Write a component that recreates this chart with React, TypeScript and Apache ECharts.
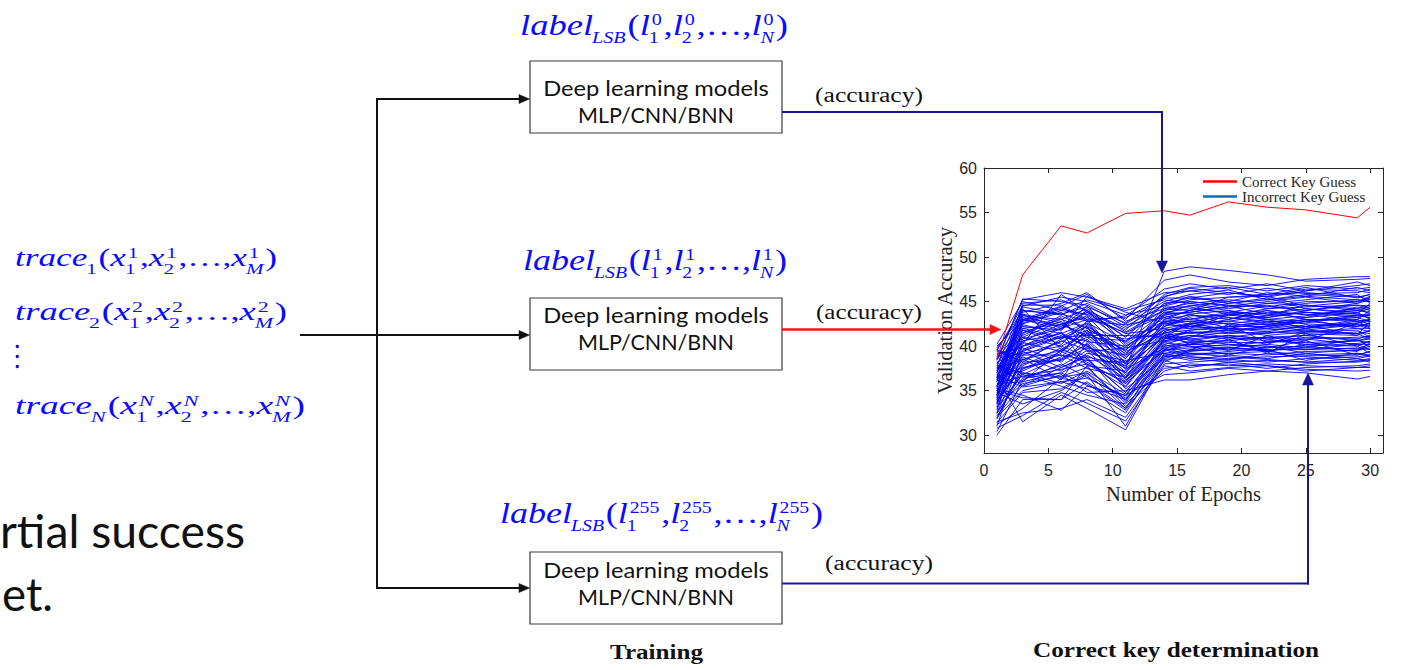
import React, { useEffect, useRef } from "react";
import * as echarts from "echarts";

// ---------- DATA ----------
const epochs = [1, 3, 6, 8, 11, 14, 16, 19, 22, 25, 29, 30];
const correctKeyAccuracy = [38.5, 48.0, 53.5, 52.7, 54.9, 55.2, 54.7, 56.2, 55.6, 55.3, 54.4, 55.6];
const incorrectKeyAccuracy = [
  [31.0, 39.5, 41.2, 40.0, 37.5, 48.4, 48.9, 48.5, 48.0, 47.3, 47.5, 47.6],
  [34.5, 43.0, 44.5, 45.8, 43.0, 47.4, 48.0, 47.2, 46.8, 47.5, 47.8, 47.8],
  [36.0, 44.8, 45.2, 44.0, 41.0, 45.5, 46.5, 46.0, 45.5, 46.2, 46.8, 47.0],
  [38.5, 45.2, 46.0, 45.5, 44.2, 46.0, 46.2, 45.8, 46.5, 45.9, 46.0, 46.4],
  [37.0, 44.0, 43.5, 44.8, 42.5, 45.0, 45.8, 46.3, 45.2, 45.8, 45.5, 45.8],
  [35.5, 42.8, 44.2, 43.5, 40.5, 44.8, 45.0, 44.5, 45.0, 45.5, 44.8, 45.5],
  [39.8, 43.5, 42.0, 44.0, 42.0, 44.0, 44.5, 45.0, 44.2, 44.8, 45.2, 45.0],
  [33.5, 41.5, 43.0, 42.0, 39.5, 43.8, 44.2, 43.8, 44.5, 44.0, 44.6, 44.5],
  [36.8, 40.5, 42.5, 43.2, 41.5, 43.5, 43.8, 44.5, 43.6, 44.2, 43.8, 44.2],
  [38.0, 42.0, 41.0, 42.5, 38.8, 43.0, 43.5, 43.0, 44.0, 43.5, 44.0, 43.8],
  [32.5, 39.0, 40.5, 41.8, 37.0, 42.8, 43.0, 43.6, 43.2, 43.8, 43.2, 43.5],
  [35.0, 41.0, 42.8, 40.5, 40.0, 42.5, 42.8, 42.5, 43.0, 42.8, 43.5, 43.2],
  [37.5, 38.5, 39.5, 41.0, 38.0, 42.0, 42.5, 42.8, 42.4, 43.0, 42.8, 42.9],
  [39.0, 40.0, 41.5, 39.8, 39.0, 41.8, 42.0, 42.2, 42.8, 42.5, 42.2, 42.6],
  [34.0, 37.5, 38.5, 40.2, 36.0, 41.5, 41.8, 42.0, 41.8, 42.2, 42.5, 42.3],
  [36.2, 39.2, 40.0, 38.8, 37.8, 41.0, 41.5, 41.8, 42.0, 41.6, 42.0, 42.0],
  [38.8, 36.5, 37.8, 39.5, 35.5, 40.8, 41.2, 41.0, 41.5, 41.8, 41.4, 41.7],
  [33.8, 38.0, 39.0, 37.5, 36.5, 40.5, 40.8, 41.2, 40.8, 41.2, 41.6, 41.4],
  [35.8, 36.0, 37.0, 38.5, 34.8, 40.0, 40.5, 40.6, 41.0, 40.8, 41.0, 41.1],
  [37.8, 37.0, 36.5, 37.0, 34.0, 39.8, 40.2, 40.0, 40.5, 40.4, 40.6, 40.8],
  [30.0, 34.0, 34.0, 36.0, 33.0, 39.5, 39.8, 40.2, 39.8, 40.0, 40.3, 40.5],
  [32.0, 35.0, 36.0, 35.2, 32.5, 39.0, 39.5, 39.6, 39.5, 39.8, 39.7, 40.2],
  [34.8, 33.5, 35.0, 36.8, 31.0, 38.8, 39.0, 39.2, 39.0, 39.4, 39.5, 39.8],
  [36.5, 31.5, 34.5, 33.0, 30.6, 38.5, 38.8, 38.6, 38.8, 38.9, 39.0, 39.4],
  [31.5, 32.5, 33.0, 34.0, 32.0, 38.0, 38.2, 38.5, 38.2, 38.6, 38.8, 39.0],
  [33.2, 36.8, 35.5, 34.5, 33.5, 37.5, 37.8, 38.0, 37.5, 38.0, 38.3, 38.5],
  [35.2, 34.5, 32.8, 35.5, 34.5, 36.8, 37.0, 37.5, 37.2, 37.6, 37.8, 38.0],
  [38.2, 35.5, 36.8, 34.8, 35.0, 36.2, 36.2, 36.8, 37.2, 37.0, 36.3, 36.6],
  [39.5, 44.5, 45.5, 45.0, 43.5, 44.5, 45.2, 45.5, 45.8, 46.0, 45.6, 45.2],
  [40.2, 45.0, 44.0, 45.2, 44.0, 45.2, 44.8, 45.2, 44.8, 45.2, 45.8, 44.8],
  [32.8, 40.8, 42.0, 44.5, 40.2, 43.2, 44.0, 43.2, 42.6, 43.2, 44.4, 44.0],
  [34.2, 42.5, 43.8, 41.5, 39.2, 42.2, 43.2, 42.0, 41.6, 42.4, 41.2, 42.8],
  [37.2, 41.8, 40.2, 42.8, 37.5, 41.2, 40.8, 40.2, 40.0, 39.6, 40.2, 39.6],
  [39.2, 39.8, 38.2, 40.8, 36.8, 40.2, 39.2, 38.8, 38.5, 38.2, 38.6, 38.2],
  [35.6, 38.8, 37.2, 39.2, 38.4, 39.2, 38.6, 38.2, 37.8, 37.4, 37.2, 37.3],
  [31.8, 37.8, 39.8, 38.2, 35.8, 39.6, 40.0, 39.0, 40.0, 39.2, 39.6, 40.0],
  [36.4, 43.8, 44.8, 46.0, 42.8, 44.2, 44.0, 45.5, 45.6, 44.5, 45.0, 45.6],
  [33.6, 40.2, 45.8, 43.8, 41.8, 45.8, 46.6, 46.8, 46.2, 46.8, 46.4, 46.6],
  [38.6, 42.2, 41.8, 45.6, 43.8, 42.6, 42.0, 43.5, 43.0, 42.0, 43.0, 42.4],
  [35.4, 44.2, 39.6, 41.6, 40.8, 41.4, 42.4, 41.5, 42.3, 43.0, 42.0, 41.6],
  [37.6, 41.2, 43.2, 39.4, 39.8, 40.6, 41.0, 42.4, 40.4, 41.0, 40.8, 41.2],
  [39.6, 38.2, 40.8, 42.2, 36.2, 39.4, 40.4, 39.5, 41.2, 40.0, 39.4, 40.4],
  [30.4, 36.2, 38.0, 36.5, 34.2, 38.2, 39.6, 40.8, 39.2, 41.4, 40.0, 39.2],
  [32.2, 35.6, 37.6, 38.8, 33.8, 40.8, 41.6, 41.0, 40.6, 40.6, 42.6, 43.0],
  [34.6, 39.6, 41.6, 37.8, 37.2, 42.4, 42.2, 43.0, 43.8, 43.6, 42.8, 42.0],
  [36.6, 37.2, 39.2, 42.4, 38.6, 43.6, 44.6, 44.0, 43.4, 44.6, 44.2, 43.6],
  [38.4, 45.3, 45.0, 44.6, 42.2, 44.6, 45.6, 44.8, 45.4, 44.2, 43.6, 44.8],
  [33.4, 38.6, 36.2, 40.4, 35.2, 38.6, 39.4, 39.8, 39.6, 38.4, 39.2, 38.8],
  [35.0, 34.2, 34.0, 37.8, 33.2, 37.2, 38.0, 37.8, 38.0, 37.8, 37.6, 37.8],
  [37.0, 43.2, 42.4, 41.2, 41.2, 41.0, 42.6, 41.8, 42.2, 41.8, 42.4, 41.9],
  [33.0, 40.0, 42.0, 43.0, 38.0, 44.2, 44.8, 44.2, 44.8, 44.6, 44.0, 44.4],
  [34.0, 41.8, 40.8, 42.2, 39.8, 43.4, 43.0, 43.8, 43.6, 43.2, 43.8, 43.0],
  [35.2, 43.6, 42.6, 41.0, 40.6, 42.8, 42.2, 42.6, 42.0, 42.8, 42.2, 42.6],
  [36.2, 42.6, 44.0, 43.6, 41.4, 42.0, 41.4, 41.8, 41.2, 41.6, 41.8, 41.0],
  [37.2, 40.6, 41.4, 40.0, 37.8, 41.6, 40.6, 41.2, 40.8, 40.2, 40.6, 40.4],
  [38.2, 39.4, 37.6, 39.0, 36.4, 40.4, 40.0, 39.8, 40.2, 39.8, 40.8, 39.9],
  [39.2, 36.8, 38.8, 41.4, 37.4, 39.8, 39.0, 39.4, 39.8, 40.6, 39.0, 39.4],
  [32.4, 37.0, 35.8, 37.2, 34.6, 39.0, 38.4, 39.0, 38.6, 39.2, 38.6, 38.9],
  [31.2, 33.0, 36.4, 35.8, 32.8, 38.4, 37.6, 38.2, 38.4, 38.2, 38.2, 38.4],
  [30.8, 32.2, 34.8, 33.6, 31.6, 37.8, 37.2, 37.6, 37.8, 37.2, 37.6, 37.6],
  [34.4, 44.6, 44.6, 43.0, 43.2, 45.4, 45.4, 46.0, 45.6, 46.4, 46.2, 46.0],
  [36.0, 43.4, 43.0, 44.2, 41.6, 44.0, 45.0, 44.6, 44.4, 45.0, 45.0, 45.4],
  [37.4, 42.4, 41.4, 42.6, 40.4, 43.8, 43.6, 44.0, 43.0, 43.4, 44.2, 44.6],
  [38.6, 41.0, 40.0, 41.4, 39.6, 42.8, 42.8, 43.2, 42.8, 42.6, 43.4, 43.6],
  [39.4, 39.0, 39.0, 38.4, 38.2, 41.8, 42.2, 42.0, 42.6, 42.2, 42.6, 42.8],
  [33.6, 38.2, 38.4, 39.8, 36.6, 41.2, 41.6, 41.4, 41.6, 41.4, 41.2, 41.8],
  [35.8, 36.6, 37.4, 38.0, 35.4, 40.6, 41.2, 40.8, 41.0, 41.2, 40.6, 41.0],
  [36.8, 35.4, 36.0, 36.4, 34.4, 40.0, 40.2, 40.4, 40.4, 40.8, 40.2, 40.2],
  [31.4, 34.8, 35.2, 37.0, 33.0, 39.2, 39.6, 39.8, 39.6, 39.6, 39.8, 39.6],
  [32.6, 36.4, 37.0, 35.6, 34.0, 38.8, 39.2, 39.2, 39.4, 39.0, 39.2, 39.0],
  [33.8, 39.4, 41.0, 40.6, 36.4, 43.0, 44.0, 44.8, 45.2, 45.6, 45.2, 45.0],
  [34.8, 40.4, 39.4, 41.8, 38.2, 42.2, 43.4, 43.4, 44.2, 44.4, 44.6, 44.2],
  [35.6, 38.4, 40.6, 39.6, 37.0, 41.6, 42.6, 42.8, 43.4, 43.8, 43.6, 43.4],
  [36.4, 37.6, 38.6, 40.2, 35.8, 40.8, 41.8, 42.2, 42.2, 42.8, 43.2, 42.8],
  [37.6, 36.0, 39.6, 38.6, 34.8, 40.2, 41.0, 41.6, 41.4, 42.0, 42.4, 42.2],
  [38.8, 43.0, 42.2, 43.8, 41.0, 44.8, 45.4, 45.0, 46.0, 45.6, 46.6, 46.2],
  [39.6, 44.0, 43.6, 44.4, 42.6, 45.6, 46.2, 46.6, 45.8, 46.6, 45.4, 45.8],
  [40.0, 42.8, 44.4, 42.8, 43.4, 46.4, 47.0, 46.4, 47.0, 46.2, 47.2, 46.8],
  [32.0, 37.4, 39.4, 38.0, 36.0, 41.0, 40.4, 40.6, 39.4, 40.2, 40.0, 40.6],
  [33.2, 35.8, 36.6, 37.6, 33.6, 39.6, 38.8, 38.4, 39.2, 38.8, 38.4, 38.6],
  [35.4, 41.4, 43.4, 42.0, 39.4, 41.4, 40.2, 41.0, 40.2, 41.6, 41.4, 40.8],
  [36.6, 43.0, 41.8, 44.0, 40.0, 42.6, 43.6, 42.4, 42.4, 42.0, 42.8, 43.0],
  [37.8, 44.4, 43.6, 42.8, 42.4, 43.2, 42.4, 43.6, 44.0, 43.0, 43.0, 44.0],
  [34.2, 42.0, 42.4, 43.4, 39.0, 44.4, 44.4, 43.6, 43.2, 44.0, 44.8, 45.2],
  [35.0, 40.0, 41.0, 41.2, 38.6, 43.6, 43.8, 44.4, 44.6, 43.8, 43.4, 43.2],
];
const xTickValues = [0, 5, 10, 15, 20, 25, 30];
const yTickValues = [30, 35, 40, 45, 50, 55, 60];
const legendNames = ["Correct Key Guess", "Incorrect Key Guess"];

// ---------- helpers ----------
type Piece = { t: string; it?: boolean; sub?: string; subIt?: boolean; sup?: string; supIt?: boolean };

const SERIF = "Liberation Serif";
const SANS = "Lato";

function makeMeasurer() {
  const ctx = document.createElement("canvas").getContext("2d") as CanvasRenderingContext2D;
  return (text: string, size: number, family: string, italic = false, bold = false) => {
    ctx.font = `${italic ? "italic " : ""}${bold ? "bold " : ""}${size}px "${family}"`;
    return ctx.measureText(text).width;
  };
}

export default function App() {
  const ref = useRef<HTMLDivElement>(null);

  useEffect(() => {
    if (!ref.current) return;
    const chart = echarts.init(ref.current, undefined, { renderer: "svg" });
    const measure = makeMeasurer();

    const BLUE = "#0a0aff";
    const NAVY = "#16169a";
    const RED = "#f01515";
    const INK = "#111111";

    const mathGroup = (pieces: Piece[], x: number, cy: number, size: number, width: number, ratio: number) => {
      const children: any[] = [];
      const ss = size * ratio;
      const txt = (t: string, px: number, py: number, fs: number, italic: boolean) => ({
        type: "text",
        x: px,
        y: py,
        z: 100,
        style: {
          text: t,
          fontSize: fs,
          fontFamily: SERIF,
          fontStyle: italic ? "italic" : "normal",
          fill: BLUE,
          align: "left",
          verticalAlign: "middle",
        },
      });
      let cx = 0;
      for (const p of pieces) {
        children.push(txt(p.t, cx, 0, size, !!p.it));
        cx += measure(p.t, size, SERIF, !!p.it);
        let adv = 0;
        if (p.sub) {
          const sx = cx - (p.it ? 0.03 * size : 0);
          children.push(txt(p.sub, sx, 0.42 * size, ss, !!p.subIt));
          adv = Math.max(adv, sx - cx + measure(p.sub, ss, SERIF, !!p.subIt));
        }
        if (p.sup) {
          const sx = cx + (p.it ? 0.05 * size : 0);
          children.push(txt(p.sup, sx, -0.18 * size, ss, !!p.supIt));
          adv = Math.max(adv, sx - cx + measure(p.sup, ss, SERIF, !!p.supIt));
        }
        cx += adv + (p.sub || p.sup ? 0.05 * size : 0);
      }
      return { type: "group", x, y: cy, scaleX: width / cx, z: 100, children };
    };

    const fitText = (
      text: string,
      x: number,
      cy: number,
      width: number,
      family: string,
      size: number,
      color: string,
      opt: { bold?: boolean; italic?: boolean; align?: string } = {}
    ) => {
      const w = measure(text, size, family, !!opt.italic, !!opt.bold);
      return {
        type: "text",
        x,
        y: cy,
        scaleX: width / w,
        z: 100,
        style: {
          text,
          fontSize: size,
          fontFamily: family,
          fontWeight: opt.bold ? "bold" : "normal",
          fontStyle: opt.italic ? "italic" : "normal",
          fill: color,
          align: opt.align ?? "center",
          verticalAlign: "middle",
        },
      };
    };

    const seg = (x1: number, y1: number, x2: number, y2: number, color: string, w: number) => ({
      type: "line",
      z: 100,
      shape: { x1, y1, x2, y2 },
      style: { stroke: color, lineWidth: w },
    });
    const head = (pts: number[][], color: string) => ({
      type: "polygon",
      z: 101,
      shape: { points: pts },
      style: { fill: color, stroke: color, lineWidth: 0.5 },
    });
    const box = (y: number) => ({
      type: "rect",
      z: 99,
      shape: { x: 530, y, width: 252, height: 72 },
      style: { fill: "#ffffff", stroke: "#3a3a3a", lineWidth: 1.2 },
    });

    const tracePieces = (k: string, kIt: boolean): Piece[] => [
      { t: "trace", it: true, sub: k, subIt: kIt },
      { t: "(" },
      { t: "x", it: true, sub: "1", sup: k, supIt: kIt },
      { t: "," },
      { t: "x", it: true, sub: "2", sup: k, supIt: kIt },
      { t: ",…," },
      { t: "x", it: true, sub: "M", subIt: true, sup: k, supIt: kIt },
      { t: ")" },
    ];
    const labelPieces = (k: string): Piece[] => [
      { t: "label", it: true, sub: "LSB", subIt: true },
      { t: "(" },
      { t: "l", it: true, sub: "1", sup: k },
      { t: "," },
      { t: "l", it: true, sub: "2", sup: k },
      { t: ",…," },
      { t: "l", it: true, sub: "N", subIt: true, sup: k },
      { t: ")" },
    ];

    const graphics: any[] = [
      // partial slide text on the left
      fitText("rtial success", 0, 530, 245, SANS, 46, INK, { align: "left" }),
      fitText("et.", 2, 593, 51, SANS, 46, INK, { align: "left" }),
      // trace formulas
      mathGroup(tracePieces("1", false), 15, 257.5, 26, 262, 0.6),
      mathGroup(tracePieces("2", false), 15, 311.5, 26, 272, 0.6),
      { type: "circle", z: 100, shape: { cx: 17.3, cy: 346.5, r: 1.7 }, style: { fill: BLUE } },
      { type: "circle", z: 100, shape: { cx: 17.3, cy: 356.5, r: 1.7 }, style: { fill: BLUE } },
      { type: "circle", z: 100, shape: { cx: 17.3, cy: 366.5, r: 1.7 }, style: { fill: BLUE } },
      mathGroup(tracePieces("N", true), 15, 405.5, 26, 290, 0.6),
      // black connector lines
      seg(300, 335, 521, 335, INK, 2),
      seg(377, 98, 377, 589, INK, 2),
      seg(376, 99, 521, 99, INK, 2),
      seg(376, 588, 521, 588, INK, 2),
      head([[519, 94.5], [529.5, 99], [519, 103.5]], INK),
      head([[519, 330.5], [529.5, 335], [519, 339.5]], INK),
      head([[519, 583.5], [529.5, 588], [519, 592.5]], INK),
      // boxes
      box(61),
      box(298),
      box(552),
      fitText("Deep learning models", 656, 88, 226, SANS, 21, INK),
      fitText("MLP/CNN/BNN", 656, 115, 156, SANS, 21, INK),
      fitText("Deep learning models", 656, 315, 226, SANS, 21, INK),
      fitText("MLP/CNN/BNN", 656, 342, 156, SANS, 21, INK),
      fitText("Deep learning models", 656, 570, 226, SANS, 21, INK),
      fitText("MLP/CNN/BNN", 656, 597, 156, SANS, 21, INK),
      // labels
      mathGroup(labelPieces("0"), 520, 25.4, 29, 268, 0.55),
      mathGroup(labelPieces("1"), 523, 260.4, 29, 264, 0.55),
      mathGroup(labelPieces("255"), 500, 513.4, 29, 323, 0.55),
      // accuracy labels
      fitText("(accuracy)", 815, 95, 108, SERIF, 20, INK, { align: "left" }),
      fitText("(accuracy)", 816, 312, 106, SERIF, 20, INK, { align: "left" }),
      fitText("(accuracy)", 825, 563, 108, SERIF, 20, INK, { align: "left" }),
      // navy arrow from top box
      seg(782, 112, 1163, 112, NAVY, 2),
      seg(1162, 111, 1162, 264, NAVY, 2),
      head([[1156.5, 261], [1162, 273], [1167.5, 261]], NAVY),
      // red arrow from middle box
      seg(782, 329.5, 992, 329.5, RED, 2.5),
      head([[990, 324.5], [1001, 329.5], [990, 334.5]], RED),
      // navy arrow from bottom box
      seg(782, 583.5, 1309, 583.5, NAVY, 2),
      seg(1308, 584.5, 1308, 382, NAVY, 2),
      head([[1302.5, 385], [1308, 373], [1313.5, 385]], NAVY),
      // captions
      fitText("Training", 656.5, 651.5, 93, SERIF, 22, INK, { bold: true }),
      fitText("Correct key determination", 1176, 650, 286, SERIF, 22, INK, { bold: true }),
    ];

    const axisLine = { show: true, onZero: false, lineStyle: { color: "#262626", width: 1 } };
    const tickStyle = { color: "#262626", width: 1 };
    const labelStyle = { fontFamily: "Liberation Sans", fontSize: 16, color: "#262626" };

    const series: any[] = incorrectKeyAccuracy.map((row) => ({
      type: "line",
      name: legendNames[1],
      data: epochs.map((e, i) => [e, row[i]]),
      symbol: "none",
      silent: true,
      z: 2,
      lineStyle: { color: "#0000ff", width: 1, opacity: 0.9 },
      itemStyle: { color: "#0072bd" },
    }));
    series.push({
      type: "line",
      name: legendNames[0],
      data: epochs.map((e, i) => [e, correctKeyAccuracy[i]]),
      symbol: "none",
      silent: true,
      z: 3,
      lineStyle: { color: "#ff0000", width: 1 },
      itemStyle: { color: "#ff0000" },
    });

    chart.setOption({
      animation: false,
      backgroundColor: "#ffffff",
      grid: { left: 984, top: 168, width: 399, height: 285 },
      legend: {
        data: legendNames,
        orient: "vertical",
        left: 1203,
        top: 174,
        icon: "rect",
        itemWidth: 34,
        itemHeight: 2.5,
        itemGap: 0,
        padding: 0,
        selectedMode: false,
        textStyle: { fontFamily: SERIF, fontSize: 15, color: "#262626", lineHeight: 15 },
      },
      xAxis: [
        {
          type: "value",
          min: 0,
          max: 31,
          position: "bottom",
          axisLine,
          axisTick: { show: true, inside: true, length: 5, lineStyle: tickStyle, customValues: xTickValues },
          axisLabel: { ...labelStyle, margin: 9, customValues: xTickValues },
          splitLine: { show: false },
          name: "Number of Epochs",
          nameLocation: "middle",
          nameGap: 30,
          nameTextStyle: { fontFamily: SERIF, fontSize: 20.5, color: "#262626" },
        },
        {
          type: "value",
          min: 0,
          max: 31,
          position: "top",
          axisLine,
          axisTick: { show: true, inside: true, length: 5, lineStyle: tickStyle, customValues: xTickValues },
          axisLabel: { show: false },
          splitLine: { show: false },
        },
      ],
      yAxis: [
        {
          type: "value",
          min: 28,
          max: 60,
          position: "left",
          axisLine,
          axisTick: { show: true, inside: true, length: 5, lineStyle: tickStyle, customValues: yTickValues },
          axisLabel: { ...labelStyle, margin: 7, customValues: yTickValues },
          splitLine: { show: false },
          name: "Validation Accuracy",
          nameLocation: "middle",
          nameGap: 29,
          nameTextStyle: { fontFamily: SERIF, fontSize: 20.5, color: "#262626" },
        },
        {
          type: "value",
          min: 28,
          max: 60,
          position: "right",
          axisLine,
          axisTick: { show: true, inside: true, length: 5, lineStyle: tickStyle, customValues: yTickValues },
          axisLabel: { show: false },
          splitLine: { show: false },
        },
      ],
      series,
      graphic: { elements: graphics },
    });

    return () => chart.dispose();
  }, []);

  return (
    <div
      ref={ref}
      style={{ position: "fixed", left: 0, top: 0, width: 1408, height: 670, background: "#ffffff" }}
    />
  );
}
